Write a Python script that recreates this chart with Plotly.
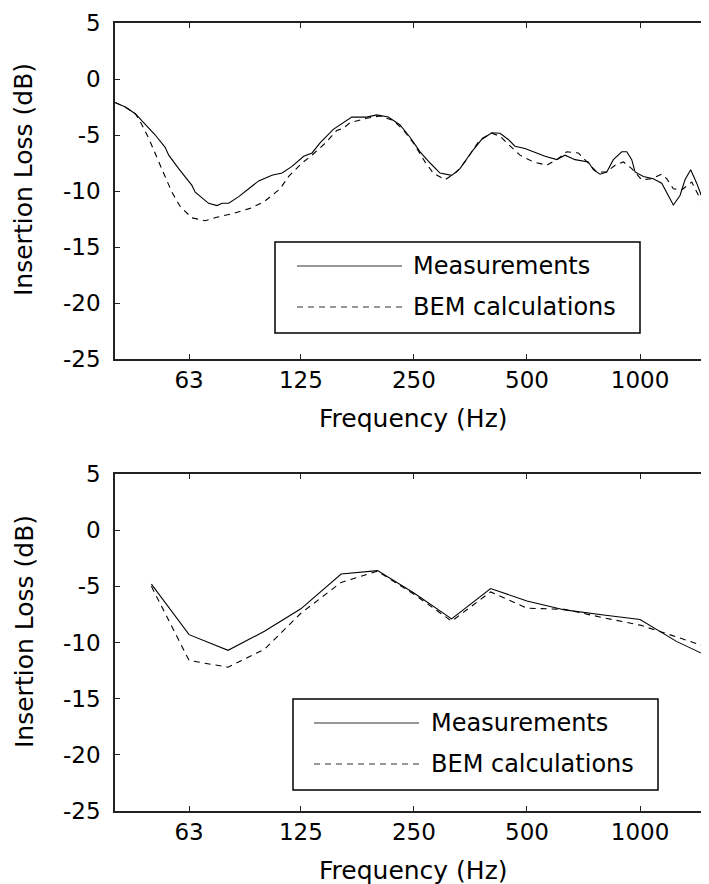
import math
import plotly.graph_objects as go

# top panel: narrow-band insertion loss (Hz, dB)
freq_meas_top = [40.0, 42.6, 45.3, 48.2, 51.2, 54.4, 55.6, 59.1, 64.1, 65.4, 71.0, 74.8, 77.1, 80.3,
                 85.4, 90.8, 96.5, 104.7, 111.4, 118.4, 127.2, 133.9, 140.6, 152.5, 165.6, 170.7,
                 187.2, 199.0, 213.7, 229.6, 244.1, 259.6, 276.0, 293.4, 315.2, 331.6, 356.2, 378.8,
                 402.8, 423.8, 445.8, 464.5, 493.9, 519.7, 558.5, 600.0, 631.2, 671.2, 728.3, 750.9,
                 782.4, 815.2, 849.0, 893.9, 921.7, 950.3, 969.7, 1020.3, 1084.7, 1142.0, 1177.6,
                 1226.4, 1277.5, 1317.3, 1364.0, 1415.0, 1459.6, 1489.0, 1526.0]
il_meas_top = [-2.1, -2.5, -3.1, -4.1, -5.0, -6.1, -6.8, -8.0, -9.5, -10.1, -11.1, -11.3, -11.1, -11.1,
               -10.5, -9.8, -9.1, -8.6, -8.4, -7.8, -6.9, -6.6, -5.7, -4.5, -3.7, -3.4,
               -3.4, -3.2, -3.4, -4.1, -5.2, -6.5, -7.5, -8.4, -8.6, -8.0, -6.5, -5.4,
               -4.8, -4.85, -5.4, -6.0, -6.2, -6.5, -6.9, -7.2, -6.8, -7.2, -7.4, -8.1,
               -8.5, -8.3, -7.2, -6.5, -6.5, -7.2, -8.3, -8.7, -8.9, -9.3, -10.1,
               -11.25, -10.4, -9.0, -8.1, -9.3, -10.5, -11.5, -11.25]

freq_bem_top = [40.0, 42.6, 45.3, 46.7, 49.2, 51.2, 53.4, 56.7, 59.7, 64.1, 69.5, 74.6, 82.6, 91.5,
                99.3, 104.7, 110.0, 116.0, 125.9, 133.9, 146.5, 155.7, 162.2, 169.0, 187.2, 203.1,
                220.3, 234.3, 249.1, 267.6, 281.5, 302.5, 325.0, 345.5, 374.9, 402.8, 423.8, 441.6,
                479.1, 519.7, 564.3, 605.9, 637.9, 684.9, 721.1, 766.7, 815.2, 857.8, 902.7, 950.3,
                1010.0, 1074.0, 1142.0, 1177.6, 1226.4, 1291.0, 1373.0, 1444.0, 1505.0, 1526.0]
il_bem_top = [-2.1, -2.5, -3.1, -3.8, -5.3, -6.6, -8.1, -10.1, -11.4, -12.4, -12.65, -12.35, -12.0, -11.55,
              -11.0, -10.4, -9.8, -8.7, -7.5, -6.8, -5.6, -4.6, -4.4, -3.9, -3.5, -3.3,
              -3.7, -4.55, -5.7, -7.4, -8.4, -9.0, -8.3, -7.2, -5.4, -4.85, -5.1, -5.7,
              -6.8, -7.4, -7.7, -7.1, -6.5, -6.6, -7.4, -8.3, -8.3, -7.7, -7.4, -8.0,
              -9.0, -8.9, -8.5, -8.9, -9.8, -9.9, -9.2, -10.65, -11.4, -11.2]

# bottom panel: 1/3-octave bands
bands = [50, 63, 80, 100, 125, 160, 200, 250, 315, 400, 500, 630, 800, 1000, 1250, 1600]
il_meas_band = [-4.8, -9.3, -10.7, -9.0, -7.0, -3.9, -3.6, -5.6, -7.9, -5.2, -6.3, -7.1, -7.55, -7.95, -9.9, -11.6]
il_bem_band = [-5.0, -11.6, -12.2, -10.6, -7.4, -4.65, -3.65, -5.7, -8.1, -5.5, -6.95, -7.05, -7.8, -8.45, -9.5, -10.7]

x_ticks = [63, 125, 250, 500, 1000]
y_ticks = [-25, -20, -15, -10, -5, 0, 5]
series_names = ["Measurements", "BEM calculations"]

# the page body has an 8px margin, so the figure is 8px smaller than the window
OFF = 8
W, H = 709 - OFF, 884 - OFF
ML, MR, MT, MB = 115 - OFF, 0, 23 - OFF, 884 - 811
PW, PH = W - ML - MR, H - MT - MB
FONT = "DejaVu Sans"


# screen pixel -> paper coordinates
def px(x):
    return (x - OFF - ML) / PW


def py(y):
    return 1 - (y - OFF - MT) / PH


fig = go.Figure()
dash = "6px,5px"
line_solid = dict(color="black", width=1.1)
line_dash = dict(color="black", width=1.1, dash=dash)

fig.add_trace(go.Scatter(x=freq_meas_top, y=il_meas_top, mode="lines", line=line_solid,
                         xaxis="x", yaxis="y", showlegend=False))
fig.add_trace(go.Scatter(x=freq_bem_top, y=il_bem_top, mode="lines", line=line_dash,
                         xaxis="x", yaxis="y", showlegend=False))
fig.add_trace(go.Scatter(x=bands, y=il_meas_band, mode="lines", line=line_solid,
                         xaxis="x2", yaxis="y2", showlegend=False))
fig.add_trace(go.Scatter(x=bands, y=il_bem_band, mode="lines", line=line_dash,
                         xaxis="x2", yaxis="y2", showlegend=False))

xrange = [math.log10(40), math.log10(1526)]
tickfont = dict(family=FONT, size=23, color="black")
xax = dict(type="log", range=xrange, tickvals=x_ticks, ticktext=[str(t) for t in x_ticks],
           ticks="inside", ticklen=5, tickwidth=1, tickcolor="#222", showline=True,
           linecolor="#222", linewidth=1.5, mirror="ticks", showgrid=False, zeroline=False,
           tickfont=tickfont, ticklabelstandoff=0, domain=[0, 1])
yax = dict(range=[-25, 5], tickvals=y_ticks, ticktext=[str(t) for t in y_ticks],
           ticks="inside", ticklen=5, tickwidth=1, tickcolor="#222", showline=True,
           linecolor="#222", linewidth=1.5, mirror=False, showgrid=False, zeroline=False,
           tickfont=tickfont, ticklabelstandoff=8)

top_dom = [py(359), py(23)]
bot_dom = [py(811), py(474)]

fig.update_layout(
    width=W, height=H,
    margin=dict(l=ML, r=MR, t=MT, b=MB),
    paper_bgcolor="white", plot_bgcolor="white",
    xaxis=dict(xax, anchor="y"),
    yaxis=dict(yax, anchor="x", domain=top_dom),
    xaxis2=dict(xax, anchor="y2"),
    yaxis2=dict(yax, anchor="x2", domain=bot_dom),
    showlegend=False,
)

titlefont = dict(family=FONT, size=25, color="black")
annots = []
for ymid, xt_y in [(180, 419), (632, 870)]:
    annots.append(dict(text="Insertion Loss (dB)", textangle=-90, x=px(24), y=py(ymid),
                       xref="paper", yref="paper", showarrow=False, font=titlefont,
                       xanchor="center", yanchor="middle"))
    annots.append(dict(text="Frequency (Hz)", x=px(413), y=py(xt_y), xref="paper", yref="paper",
                       showarrow=False, font=titlefont, xanchor="center", yanchor="middle"))

# hand-drawn legend boxes (long line samples, like the original)
shapes = []
legfont = dict(family=FONT, size=24, color="black")
for (x0, x1, y0, y1, lx0, lx1, ly1, ly2, tx) in [
        (275, 640, 242, 333, 297, 402, 266, 307, 411),
        (293, 658, 699, 790, 314, 419, 723, 764, 429)]:
    shapes.append(dict(type="rect", xref="paper", yref="paper", x0=px(x0), x1=px(x1),
                       y0=py(y1), y1=py(y0), line=dict(color="black", width=1.5),
                       fillcolor="white", layer="above"))
    shapes.append(dict(type="line", xref="paper", yref="paper", x0=px(lx0), x1=px(lx1),
                       y0=py(ly1), y1=py(ly1), line=dict(color="#333", width=1.1)))
    shapes.append(dict(type="line", xref="paper", yref="paper", x0=px(lx0), x1=px(lx1),
                       y0=py(ly2), y1=py(ly2), line=dict(color="#333", width=1.1, dash=dash)))
    for name, ly in zip(series_names, [ly1, ly2]):
        annots.append(dict(text=name, x=px(tx), y=py(ly), xref="paper", yref="paper",
                           showarrow=False, font=legfont, xanchor="left", yanchor="middle"))

fig.update_layout(annotations=annots, shapes=shapes)

fig.write_html("out.html")
